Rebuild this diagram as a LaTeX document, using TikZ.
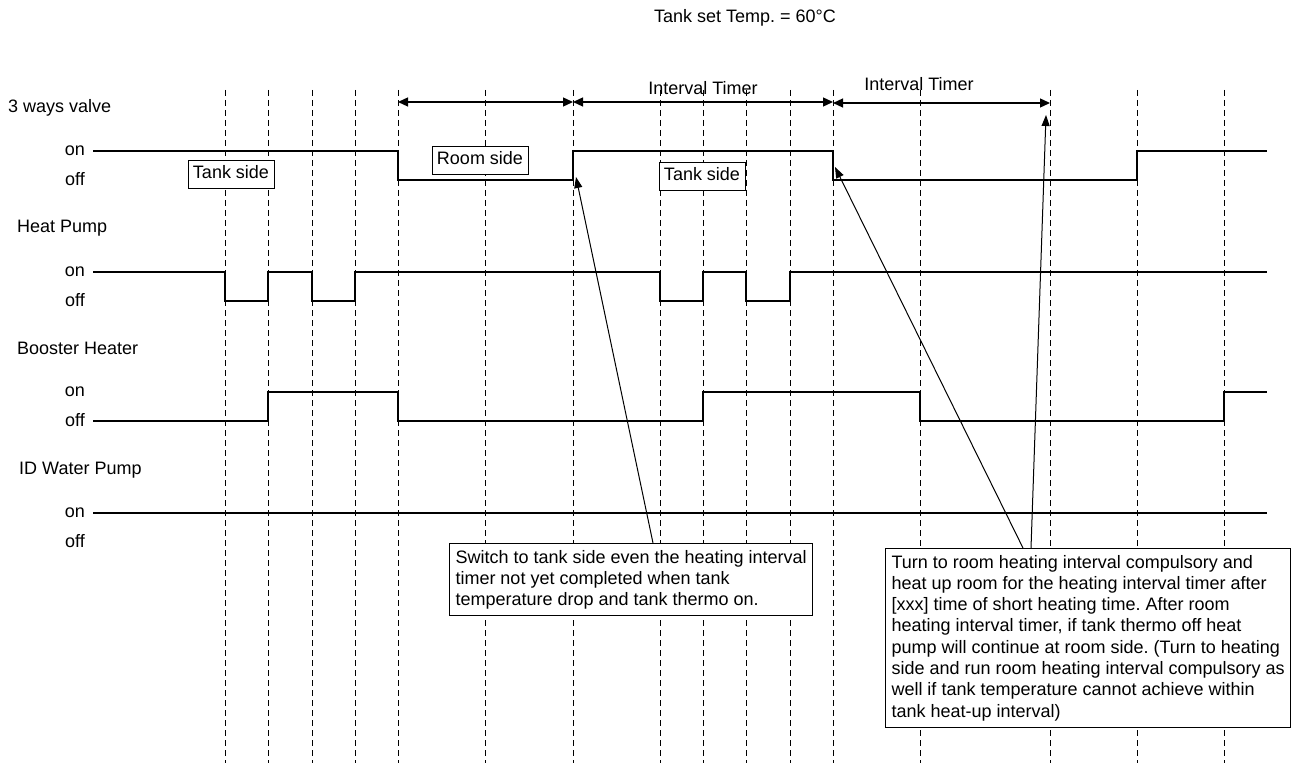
\documentclass[tikz,border=0pt]{standalone}
\usepackage{fontspec}
\setmainfont{Liberation Sans}
\usetikzlibrary{arrows.meta}
\frenchspacing
\begin{document}
\begin{tikzpicture}[x=1pt,y=-1pt,
  every node/.style={font=\fontsize{18}{21.3}\selectfont},
  wave/.style={line width=2.7pt},
  tick/.style={line width=0.9pt, dash pattern=on 6pt off 4pt},
  span/.style={line width=1.3pt, {Triangle[length=10pt,width=9pt]}-{Triangle[length=10pt,width=9pt]}},
  callout/.style={line width=1pt, -{Triangle[length=11pt,width=8pt]}},
  tag/.style={draw, fill=white, line width=0.9pt, inner xsep=5pt, inner ysep=5.5pt,
    text height=13pt, text depth=4pt},
  note/.style={draw, fill=white, line width=1pt, align=left, inner xsep=6pt,
    inner ysep=6.5pt, anchor=north west}]
\useasboundingbox (0,0) rectangle (1292,767);
% time grid
\foreach \t in {225,268,312,355,398,485,573,660,703,746,790,833,920,1050,1137,1224}
  \draw[tick] (\t,90) -- (\t,763);
\node (title) at (745,18) {Tank set Temp. = 60°C};
% signal names
\node[anchor=west, inner sep=0] (valve) at (8,108) {3 ways valve};
\node[anchor=west, inner sep=0] (hp) at (17,228) {Heat Pump};
\node[anchor=west, inner sep=0] (bh) at (17,348) {Booster Heater};
\node[anchor=west, inner sep=0] (wp) at (19,470) {ID Water Pump};
\foreach \y/\n in {151/valve,272/hp,392/bh,513/wp} {
  \node[anchor=east, inner sep=0] (\n-on) at (85,\y) {on};
  \node[anchor=east, inner sep=0] (\n-off) at (85,\y+28) {off};
}
% 3 ways valve
\draw[wave] (93,151) -| (398,180) -| (573,151) -| (833,180) -| (1137,151) -- (1267,151);
% heat pump
\draw[wave] (93,272) -| (225,301) -| (268,272) -| (312,301) -| (355,272)
  -| (660,301) -| (703,272) -| (746,301) -| (790,272) -- (1267,272);
% booster heater
\draw[wave] (93,421) -| (268,392) -| (398,421) -| (703,392) -| (920,421)
  -| (1224,392) -- (1267,392);
% ID water pump
\draw[wave] (93,513) -- (1267,513);
\node[tag] (tank1) at (231,174) {Tank side};
\node[tag] (room) at (480,160) {Room side};
\node[tag] (tank2) at (702,176) {Tank side};
% interval timers
\coordinate (a0) at (398,102);
\coordinate (a1) at (573,102);
\coordinate (a2) at (833,102);
\coordinate (b2) at (833,103);
\coordinate (b3) at (1050,103);
\draw[span] (a0) -- (a1);
\draw[span] (a1) -- (a2);
\draw[span] (b2) -- (b3);
\node (int1) at (703,88) {Interval Timer};
\node (int2) at (919,84) {Interval Timer};
% notes
\node[note] (switch) at (449,543) {Switch to tank side even the heating interval\\
  timer not yet completed when tank\\
  temperature drop and tank thermo on.};
\node[note] (turn) at (885,548) {Turn to room heating interval compulsory and\\
  heat up room for the heating interval timer after\\
  {[xxx]} time of short heating time. After room\\
  heating interval timer, if tank thermo off heat\\
  pump will continue at room side. (Turn to heating\\
  side and run room heating interval compulsory as\\
  well if tank temperature cannot achieve within\\
  tank heat-up interval)};
\coordinate (p1) at (576,177);
\coordinate (p2) at (835,167);
\coordinate (p3) at (1046,115);
\draw[callout] ([xshift=204pt]switch.north west) -- (p1);
\draw[callout] ([xshift=138pt]turn.north west) -- (p2);
\draw[callout] ([xshift=146pt]turn.north west) -- (p3);
\end{tikzpicture}
\end{document}
